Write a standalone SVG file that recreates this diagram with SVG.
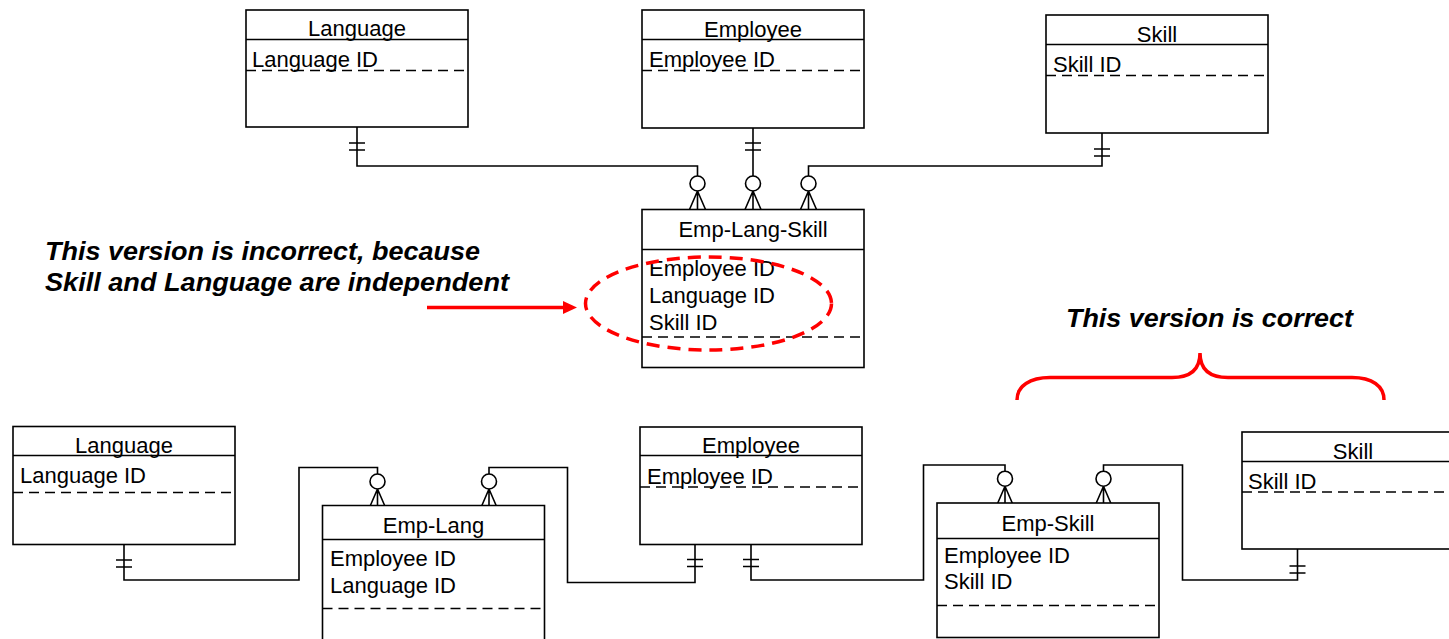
<svg xmlns="http://www.w3.org/2000/svg" width="1449" height="639" viewBox="0 0 1449 639">
<style>
.box{fill:#fff;stroke:#000;stroke-width:1.6}
.ln{fill:none;stroke:#000;stroke-width:1.6}
.dash{fill:none;stroke:#000;stroke-width:1.5;stroke-dasharray:10 6}
.t{font-family:"Liberation Sans",Arial,sans-serif;font-size:22px;fill:#000}
.c{text-anchor:middle}
.note{font-family:"Liberation Sans",Arial,sans-serif;font-size:26px;font-weight:bold;font-style:italic;fill:#000}
.red{fill:none;stroke:#f00;stroke-width:3.5}
</style>
<defs>
<g id="crow">
<circle cx="0" cy="0" r="7.5" fill="#fff" stroke="#000" stroke-width="1.6"/>
<path d="M0,7.5 L-8,26 M0,7.5 L0,26 M0,7.5 L8,26" fill="none" stroke="#000" stroke-width="1.6"/>
</g>
<g id="bar2">
<path d="M-8,0 H8 M-8,7 H8" fill="none" stroke="#000" stroke-width="1.6"/>
</g>
</defs>

<g id="connectors">
<path class="ln" d="M357,127 V166 H697.5 V176"/>
<path class="ln" d="M753,128 V176"/>
<path class="ln" d="M1102,133 V166 H808.5 V176"/>
<use href="#bar2" x="357" y="143"/>
<use href="#bar2" x="753" y="143"/>
<use href="#bar2" x="1102" y="149"/>
<use href="#crow" x="697.5" y="183.5"/>
<use href="#crow" x="753" y="183.5"/>
<use href="#crow" x="808.5" y="183.5"/>
<path class="ln" d="M124,544 V580 H299 V467.5 H377.5 V474.5"/>
<path class="ln" d="M489,474.5 V467.5 H567.5 V582.5 H695 V544"/>
<path class="ln" d="M751,544 V580 H923.5 V465 H1005 V472"/>
<path class="ln" d="M1103.5,472 V465 H1182.5 V580 H1297.5 V549"/>
<use href="#bar2" x="124" y="560"/>
<use href="#bar2" x="695" y="559.5"/>
<use href="#bar2" x="751" y="559.5"/>
<use href="#bar2" x="1297.5" y="566"/>
<use href="#crow" x="377.5" y="481.5"/>
<use href="#crow" x="489" y="481.5"/>
<use href="#crow" x="1005" y="478.7"/>
<use href="#crow" x="1103.5" y="478.7"/>
</g>

<g id="language-top">
<rect class="box" x="246" y="10" width="222" height="117"/>
<line class="ln" x1="246" y1="39.5" x2="468" y2="39.5"/>
<text class="t c" x="357" y="36">Language</text>
<text class="t" x="252" y="67">Language ID</text>
<line class="dash" x1="246" y1="70.5" x2="468" y2="70.5"/>
</g>

<g id="employee-top">
<rect class="box" x="642" y="10" width="222" height="118"/>
<line class="ln" x1="642" y1="39.5" x2="864" y2="39.5"/>
<text class="t c" x="753" y="37">Employee</text>
<text class="t" x="649" y="67">Employee ID</text>
<line class="dash" x1="642" y1="70.5" x2="864" y2="70.5"/>
</g>

<g id="skill-top">
<rect class="box" x="1046" y="15" width="222" height="118"/>
<line class="ln" x1="1046" y1="44.5" x2="1268" y2="44.5"/>
<text class="t c" x="1157" y="42">Skill</text>
<text class="t" x="1053" y="72">Skill ID</text>
<line class="dash" x1="1046" y1="75.5" x2="1268" y2="75.5"/>
</g>

<g id="emp-lang-skill">
<rect class="box" x="642" y="209.5" width="222" height="158"/>
<line class="ln" x1="642" y1="249.5" x2="864" y2="249.5"/>
<text class="t c" x="753" y="237">Emp-Lang-Skill</text>
<text class="t" x="649" y="276">Employee ID</text>
<text class="t" x="649" y="303">Language ID</text>
<text class="t" x="649" y="330">Skill ID</text>
<line class="dash" x1="642" y1="337" x2="864" y2="337"/>
</g>

<g id="incorrect-note">
<text class="note" x="45" y="260" textLength="435" lengthAdjust="spacingAndGlyphs">This version is incorrect, because</text>
<text class="note" x="45" y="291" textLength="464" lengthAdjust="spacingAndGlyphs">Skill and Language are independent</text>
<line x1="427" y1="307.5" x2="566" y2="307.5" stroke="#f00" stroke-width="3.5"/>
<polygon points="577,307.5 563,301 563,314" fill="#f00"/>
<ellipse cx="708.5" cy="303.5" rx="123" ry="46.5" fill="none" stroke="#f00" stroke-width="3.5" stroke-dasharray="13 8"/>
</g>

<g id="correct-note">
<text class="note" x="1066" y="327" textLength="287" lengthAdjust="spacingAndGlyphs">This version is correct</text>
<path class="red" d="M1017,400 C1017,386 1030,377.5 1050,377.5 L1172,377.5 C1192,377.5 1200,368 1200,353 C1200,368 1208,377.5 1228,377.5 L1352,377.5 C1372,377.5 1384,386 1384,400"/>
</g>

<g id="language-bottom">
<rect class="box" x="13" y="426.5" width="222" height="118"/>
<line class="ln" x1="13" y1="455.5" x2="235" y2="455.5"/>
<text class="t c" x="124" y="453">Language</text>
<text class="t" x="20" y="483">Language ID</text>
<line class="dash" x1="13" y1="492.5" x2="235" y2="492.5"/>
</g>

<g id="emp-lang">
<path class="box" d="M322.5,645 V505.5 H544.5 V645"/>
<line class="ln" x1="322.5" y1="539.5" x2="544.5" y2="539.5"/>
<text class="t c" x="433.5" y="533">Emp-Lang</text>
<text class="t" x="330" y="566">Employee ID</text>
<text class="t" x="330" y="593">Language ID</text>
<line class="dash" x1="322.5" y1="608.5" x2="544.5" y2="608.5"/>
</g>

<g id="employee-bottom">
<rect class="box" x="640" y="427" width="222" height="117.5"/>
<line class="ln" x1="640" y1="455.5" x2="862" y2="455.5"/>
<text class="t c" x="751" y="453">Employee</text>
<text class="t" x="647" y="484">Employee ID</text>
<line class="dash" x1="640" y1="487" x2="862" y2="487"/>
</g>

<g id="emp-skill">
<rect class="box" x="937" y="503" width="222" height="134.5"/>
<line class="ln" x1="937" y1="538.5" x2="1159" y2="538.5"/>
<text class="t c" x="1048" y="531">Emp-Skill</text>
<text class="t" x="944" y="563">Employee ID</text>
<text class="t" x="944" y="589">Skill ID</text>
<line class="dash" x1="937" y1="605.5" x2="1159" y2="605.5"/>
</g>

<g id="skill-bottom">
<rect class="box" x="1242" y="432" width="222" height="117"/>
<line class="ln" x1="1242" y1="461.5" x2="1464" y2="461.5"/>
<text class="t c" x="1353" y="459">Skill</text>
<text class="t" x="1248" y="489">Skill ID</text>
<line class="dash" x1="1242" y1="492" x2="1464" y2="492"/>
</g>
</svg>
